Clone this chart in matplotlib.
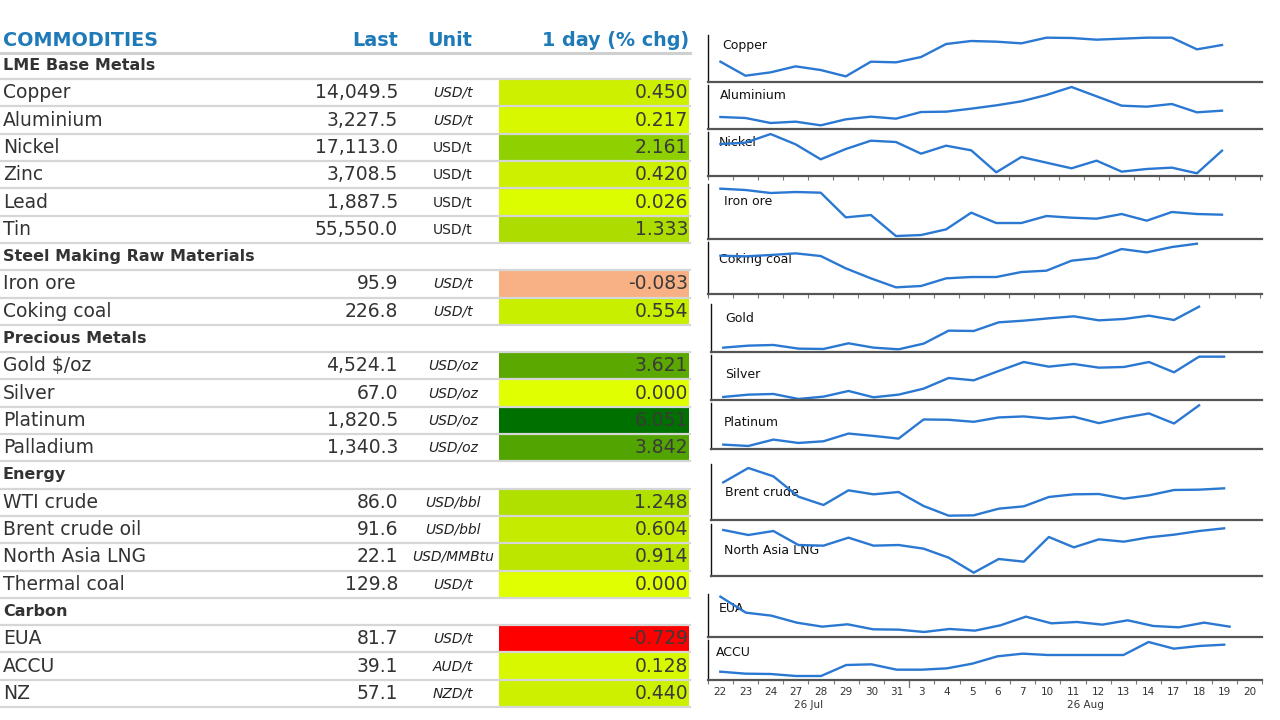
import matplotlib.pyplot as plt
from matplotlib.patches import Rectangle

# ---- table data ----
section_names = ['LME Base Metals', 'Steel Making Raw Materials', 'Precious Metals', 'Energy', 'Carbon']
section_sizes = [6, 2, 4, 4, 3]

commodities = ['Copper', 'Aluminium', 'Nickel', 'Zinc', 'Lead', 'Tin',
               'Iron ore', 'Coking coal',
               'Gold $/oz', 'Silver', 'Platinum', 'Palladium',
               'WTI crude', 'Brent crude oil', 'North Asia LNG', 'Thermal coal',
               'EUA', 'ACCU', 'NZ']
last = [14049.5, 3227.5, 17113.0, 3708.5, 1887.5, 55550.0,
        95.9, 226.8,
        4524.1, 67.0, 1820.5, 1340.3,
        86.0, 91.6, 22.1, 129.8,
        81.7, 39.1, 57.1]
units = ['USD/t', 'USD/t', 'USD/t', 'USD/t', 'USD/t', 'USD/t',
         'USD/t', 'USD/t',
         'USD/oz', 'USD/oz', 'USD/oz', 'USD/oz',
         'USD/bbl', 'USD/bbl', 'USD/MMBtu', 'USD/t',
         'USD/t', 'AUD/t', 'NZD/t']
unit_italic = [True, True, False, False, False, False,
               True, True,
               True, True, True, True,
               True, True, True, True,
               True, True, True]
chg = [0.450, 0.217, 2.161, 0.420, 0.026, 1.333,
       -0.083, 0.554,
       3.621, 0.000, 6.051, 3.842,
       1.248, 0.604, 0.914, 0.000,
       -0.729, 0.128, 0.440]
chg_colors = ['#cdf000', '#d8f800', '#8fd000', '#cdf000', '#dcfc00', '#acdc00',
              '#f8b085', '#c8ee00',
              '#5aa800', '#e0ff00', '#007000', '#52a500',
              '#b0e000', '#c5ec00', '#bce600', '#e0ff00',
              '#ff0000', '#d8f800', '#cdf000']

# ---- sparkline data (relative levels) ----
spark_dates = ['22', '23', '24', '27', '28', '29', '30', '31', '3', '4', '5',
               '6', '7', '10', '11', '12', '13', '14', '17', '18', '19', '20']
spark_names = ['Copper', 'Aluminium', 'Nickel', 'Iron ore', 'Coking coal', 'Gold',
               'Silver', 'Platinum', 'Brent crude', 'North Asia LNG', 'EUA', 'ACCU']
copper = [60, 18, 28, 46, 35, 16, 60, 58, 74, 113, 122, 120, 115, 132, 131, 126, 129, 132, 132, 97, 110]
aluminium = [36, 33, 18, 22, 11, 29, 37, 31, 51, 52, 61, 71, 83, 102, 126, 98, 70, 67, 75, 50, 55]
nickel = [97, 101, 127, 96, 51, 82, 107, 103, 68, 92, 78, 12, 58, 41, 24, 47, 14, 22, 26, 9, 77]
iron_ore = [150, 146, 137, 140, 138, 64, 71, 8, 11, 28, 78, 47, 47, 68, 63, 60, 74, 54, 80, 74, 72]
coking_coal = [115, 113, 117, 122, 114, 77, 47, 20, 24, 47, 51, 51, 66, 70, 100, 108, 135, 125, 141, 151]
gold = [14, 20, 22, 11, 10, 27, 14, 9, 26, 65, 64, 90, 95, 102, 108, 96, 100, 110, 97, 137]
silver = [10, 17, 19, 4, 11, 28, 9, 17, 35, 67, 60, 88, 115, 101, 109, 98, 100, 115, 84, 131, 131]
platinum = [13, 9, 28, 18, 23, 46, 39, 31, 88, 87, 81, 94, 97, 90, 96, 77, 93, 106, 76, 130]
brent = [113, 156, 131, 70, 45, 89, 77, 84, 42, 13, 14, 34, 41, 69, 77, 78, 64, 74, 90, 91, 95]
lng = [138, 123, 135, 93, 91, 115, 91, 93, 82, 55, 10, 51, 43, 117, 86, 110, 103, 116, 124, 135, 143]
eua = [122, 74, 65, 44, 32, 39, 24, 23, 16, 25, 20, 36, 62, 42, 46, 38, 51, 34, 30, 44, 32]
accu = [25, 19, 18, 12, 12, 45, 47, 31, 31, 35, 49, 71, 79, 75, 75, 75, 75, 114, 94, 102, 106]
spark_series = [copper, aluminium, nickel, iron_ore, coking_coal, gold,
                silver, platinum, brent, lng, eua, accu]

# panel layout in pixels: top, bottom, left, first point x, step, y span, label x, label y
panel_layout = [
    (35, 81.7, 707.5, 720.4, 25.08, 140, 722, 45.7),
    (85, 129, 707.5, 720.4, 25.08, 132, 720, 95.7),
    (131.7, 176.3, 707.5, 720.4, 25.08, 134, 719, 142.7),
    (184, 238.7, 707.5, 720.4, 25.08, 164, 724, 201.7),
    (241.7, 294, 707.5, 720.4, 25.08, 157, 719, 259),
    (304, 352.3, 710.5, 723.3, 25.04, 145, 725, 319),
    (355, 400.3, 710.5, 723.3, 25.04, 136, 725, 374),
    (403, 449, 710.5, 723.3, 25.04, 137, 724, 422.7),
    (464, 520, 710.5, 723.3, 25.04, 168, 725, 492.7),
    (524, 576, 710.5, 723.3, 25.04, 156, 724, 550),
    (594, 637.3, 707.5, 720.4, 25.46, 130, 719, 609),
    (640, 680, 707.5, 720.4, 25.46, 120, 716, 653),
]
RIGHT = 1262
W, H = 1280, 720

blue_head = '#1f7ab8'
txt = '#333333'

fig = plt.figure(figsize=(12.8, 7.2), dpi=100)
ax = fig.add_axes([0, 0, 1, 1])
ax.set_xlim(0, W)
ax.set_ylim(H, 0)
ax.axis('off')

# header
ax.text(3, 40, 'COMMODITIES', color=blue_head, fontsize=13.8, fontweight='bold', va='center')
ax.text(398, 40, 'Last', color=blue_head, fontsize=13.8, fontweight='bold', va='center', ha='right')
ax.text(450, 40, 'Unit', color=blue_head, fontsize=13.8, fontweight='bold', va='center', ha='center')
ax.text(689, 40, '1 day (% chg)', color=blue_head, fontsize=13.8, fontweight='bold', va='center', ha='right')
ax.plot([0, 690], [52.5, 52.5], color='#d0d0d0', lw=2.2)

row_h = 27.3
row = 0
k = 0
for sec, n in zip(section_names, section_sizes):
    yc = 65.5 + row * row_h
    ax.text(3, yc, sec, color=txt, fontsize=11.5, fontweight='bold', va='center')
    ax.plot([0, 690], [yc + row_h / 2, yc + row_h / 2], color='#d6d6d6', lw=1.6, zorder=3)
    row += 1
    for j in range(n):
        yc = 65.5 + row * row_h
        ax.add_patch(Rectangle((499, yc - row_h / 2 + 0.8), 190, row_h - 1.6,
                               facecolor=chg_colors[k], edgecolor='none', zorder=1))
        ax.text(3, yc, commodities[k], color=txt, fontsize=13.5, va='center')
        ax.text(398, yc, f'{last[k]:,.1f}', color=txt, fontsize=13.5, va='center', ha='right')
        ax.text(453, yc, units[k], color='#222222', fontsize=10, va='center', ha='center',
                style='italic' if unit_italic[k] else 'normal')
        ax.text(688, yc, f'{chg[k]:.3f}', color='#3a3a3a', fontsize=13.5, va='center', ha='right', zorder=4)
        ax.plot([0, 690], [yc + row_h / 2, yc + row_h / 2], color='#d6d6d6', lw=1.6, zorder=3)
        row += 1
        k += 1

# sparklines
for i, (name, vals) in enumerate(zip(spark_names, spark_series)):
    top, bot, left, first, step, span, lx, ly = panel_layout[i]
    sax = fig.add_axes([left / W, 1 - bot / H, (RIGHT - left) / W, (bot - top) / H])
    sax.set_facecolor('none')
    sax.plot(range(len(vals)), vals, color='#2a78d2', lw=1.7, solid_joinstyle='round')
    sax.set_xlim(-(first - left) / step, (RIGHT - first) / step)
    sax.set_ylim(0, span)
    for s in ['top', 'right']:
        sax.spines[s].set_visible(False)
    sax.spines['left'].set_color('#111111')
    sax.spines['left'].set_linewidth(1.0)
    sax.spines['bottom'].set_color('#555555')
    sax.spines['bottom'].set_linewidth(1.6)
    sax.set_yticks([])
    if name in ('Nickel', 'Coking coal', 'ACCU'):
        sax.set_xticks([t + 0.5 for t in range(-1, len(spark_dates))], minor=True)
        sax.tick_params(axis='x', which='minor', length=3, color='#777777', width=0.8)
    if name == 'ACCU':
        sax.set_xticks(range(len(spark_dates)))
        sax.set_xticklabels(spark_dates, fontsize=7.5, color=txt)
        sax.tick_params(axis='x', which='major', length=0, pad=5)
        sax.plot([7.5, 7.5], [0, -0.18], color='#777777', lw=0.9,
                 transform=sax.get_xaxis_transform(), clip_on=False)
        sax.text(3.5, -0.62, '26 Jul', fontsize=7.5, color=txt, ha='center', va='center',
                 transform=sax.get_xaxis_transform())
        sax.text(14.5, -0.62, '26 Aug', fontsize=7.5, color=txt, ha='center', va='center',
                 transform=sax.get_xaxis_transform())
    else:
        sax.set_xticks([])
    ax.text(lx, ly, name, fontsize=9, color='#111111', va='center', zorder=5)

fig.savefig('out.png', dpi=100)
